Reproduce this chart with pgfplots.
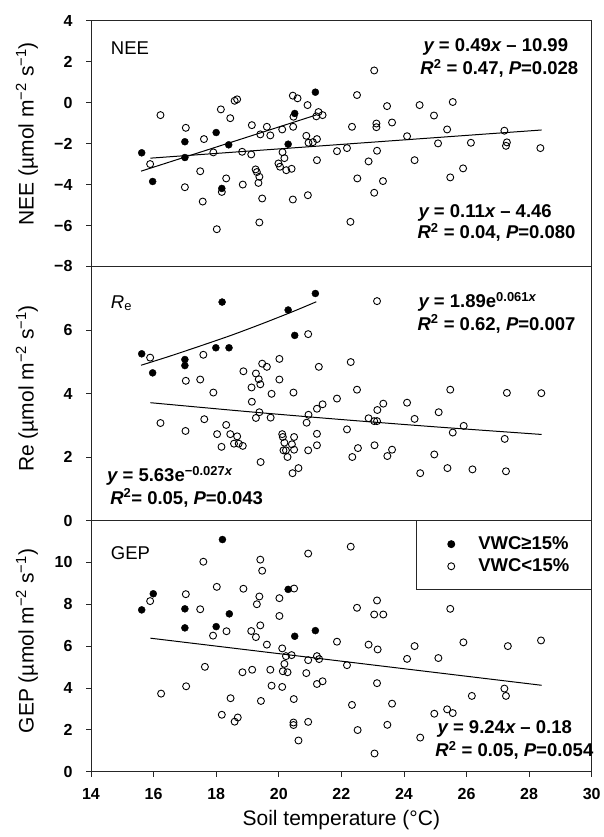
\documentclass[border=0pt]{standalone}
\usepackage{pgfplots}
\pgfplotsset{compat=1.18}
\usepackage{fontspec}
\setmainfont{Liberation Sans}

\newcommand{\ticksz}{\fontsize{16}{16}\selectfont\bfseries}
\newcommand{\eqsz}{\fontsize{18.5}{20}\selectfont\bfseries}
\newcommand{\labsz}{\fontsize{21}{21}\selectfont}
\newcommand{\panelsz}{\fontsize{18.5}{18.5}\selectfont}

\pgfplotsset{
  panel/.style={
    scale only axis, width=500.7pt,
    xmin=14, xmax=30,
    axis line style={black!85, line width=0.9pt},
    tick style={black!85, line width=0.8pt},
    tick align=outside, major tick length=5pt,
    xtick pos=bottom, ytick pos=left,
    yticklabel style={font=\ticksz, xshift=-10pt},
    xticklabel style={font=\ticksz},
    xticklabel shift=8pt,
    every axis y label/.style={at={(axis description cs:-0.128,0.52)}, rotate=90, anchor=center, font=\labsz},
    clip=false,
  },
  open/.style={only marks, mark=o, mark size=3.5pt, line width=0.9pt, black},
  wet/.style={only marks, mark=*, mark size=3.5pt, black},
  fitline/.style={no marks, black, line width=1pt},
  legmark/.style={legend image code/.code={\path[draw=none,fill=none] (-7pt,0pt) -- (33pt,0pt); \draw[##1] plot coordinates {(8pt,0pt)};}},
}
\tikzset{eq/.style={anchor=west, inner sep=0pt, font=\eqsz}}

\begin{document}
\begin{tikzpicture}
\path[use as bounding box] (0,0) rectangle (603pt,837pt);

% ---------------- NEE ----------------
\begin{axis}[panel, at={(91pt,570.5pt)}, anchor=south west, height=245.8pt,
  ymin=-8, ymax=4, ytick={-8,-6,...,4},
  yticklabels={−8,−6,−4,−2,0,2,4}, xtick=\empty,
  every axis y label/.append style={at={(axis description cs:-0.128,0.54)}},
  ylabel={NEE (µmol m\textsuperscript{−2} s\textsuperscript{−1})}]
\addplot[wet] coordinates {
(15.62,-2.45) (15.97,-3.85) (17.0,-1.91) (17.0,-2.68) (18.0,-1.46)
(18.40,-2.06) (18.18,-4.19) (20.30,-2.03) (20.51,-0.53) (21.17,0.51)};
\addplot[open] coordinates {
(16.22,-0.61) (15.89,-3.00) (17.03,-1.23) (17.61,-1.78) (17.49,-3.35)
(17.00,-4.13) (17.57,-4.83) (17.91,-2.43) (18.15,-0.33) (18.45,-0.76)
(18.59,0.09) (18.67,0.16) (18.32,-3.70) (18.18,-4.36) (18.02,-6.18)
(18.85,-4.00) (18.83,-2.40) (19.14,-1.10) (19.12,-2.53) (19.41,-1.55)
(19.62,-1.18) (19.73,-1.60) (19.26,-3.26) (19.30,-3.39) (19.38,-3.62)
(19.35,-3.92) (19.47,-4.68) (19.38,-5.85) (20.11,-1.31) (20.12,-2.42)
(20.18,-2.71) (19.99,-2.97) (20.04,-3.13) (20.24,-3.30) (20.41,-3.23)
(20.45,-4.73) (20.46,-1.18) (20.45,0.34) (20.60,0.21) (20.47,-0.69)
(20.92,-0.12) (20.88,-1.62) (20.95,-1.96) (21.09,-1.93) (21.22,-1.78)
(21.27,-0.46) (21.40,-0.61) (21.20,-0.67) (21.22,-2.81) (20.93,-4.52)
(21.86,-2.37) (22.18,-2.22) (22.34,-1.18) (22.50,0.37) (22.51,-3.70)
(22.29,-5.82) (22.87,-2.87) (23.05,-4.40) (23.14,-2.35) (23.12,-1.02)
(23.12,-1.20) (23.05,1.57) (23.33,-3.83) (23.46,-0.17) (23.62,-0.97)
(24.10,-1.64) (24.34,-2.81) (24.50,-0.12) (24.96,-0.63) (25.09,-1.99)
(25.38,-1.31) (25.48,-3.65) (25.56,0.03) (25.89,-3.21) (26.14,-1.96)
(27.21,-1.37) (27.29,-1.94) (27.26,-2.11) (28.36,-2.22)};
% linear fits
\addplot[fitline] coordinates {(15.6,-3.346) (21.2,-0.602)};
\addplot[fitline] coordinates {(15.9,-2.711) (28.4,-1.336)};
\node[anchor=west, inner sep=0pt, font=\panelsz] at (axis cs:14.63,2.68) {NEE};
\node[eq] at (axis cs:24.62,2.73) {\itshape y\upshape\ = 0.49\itshape x\upshape\ – 10.99};
\node[eq] at (axis cs:24.52,1.68) {\itshape R\upshape\textsuperscript{2} = 0.47, \itshape P\upshape=0.028};
\node[eq] at (axis cs:24.46,-5.39) {\itshape y\upshape\ = 0.11\itshape x\upshape\ – 4.46};
\node[eq] at (axis cs:24.43,-6.33) {\itshape R\upshape\textsuperscript{2} = 0.04, \itshape P\upshape=0.080};
\end{axis}

% ---------------- Re ----------------
\begin{axis}[panel, at={(91pt,316.5pt)}, anchor=south west, height=254pt,
  ymin=0, ymax=8, ytick={0,2,4,6},
  yticklabels={0,2,4,6}, xtick=\empty,
  ylabel={Re (µmol m\textsuperscript{−2} s\textsuperscript{−1})}]
\addplot[wet] coordinates {
(15.62,5.25) (15.97,4.65) (17.0,5.07) (17.0,4.88) (17.99,5.44)
(18.41,5.44) (18.19,6.88) (20.30,6.63) (20.51,5.83) (21.17,7.15)};
\addplot[open] coordinates {
(15.89,5.13) (16.22,3.07) (17.03,4.40) (17.02,2.82) (17.49,4.44)
(17.59,5.22) (17.62,3.19) (17.91,4.03) (18.03,2.72) (18.17,2.32)
(18.32,3.01) (18.45,2.72) (18.57,2.42) (18.67,2.65) (18.72,2.42)
(18.85,2.35) (18.87,4.70) (19.14,3.74) (19.13,4.19) (19.27,4.63)
(19.36,4.45) (19.41,4.29) (19.47,4.94) (19.62,4.84) (19.27,3.23)
(19.38,3.41) (19.74,3.24) (19.77,3.99) (20.02,5.09) (20.02,4.44)
(19.42,1.84) (20.11,2.72) (20.13,2.63) (20.18,2.45) (20.15,2.21)
(20.23,2.21) (20.28,2.00) (20.42,2.40) (20.49,2.63) (20.49,2.23)
(20.47,4.03) (20.44,1.49) (20.63,1.65) (20.94,5.87) (21.28,4.84)
(20.89,3.08) (20.95,3.33) (21.22,3.52) (21.40,3.66) (21.22,2.73)
(21.22,2.37) (20.94,2.21) (21.86,3.84) (22.18,2.87) (22.30,4.99)
(22.50,4.12) (22.35,2.00) (22.53,2.28) (22.87,3.22) (23.05,3.13)
(23.14,3.13) (23.15,3.48) (23.34,3.68) (23.06,2.37) (23.47,2.03)
(23.62,2.23) (23.14,6.91) (24.10,3.71) (24.34,3.20) (24.52,1.49)
(24.97,2.08) (25.11,3.41) (25.39,1.65) (25.48,4.12) (25.56,2.77)
(25.91,2.98) (26.19,1.61) (27.22,2.57) (27.29,4.02) (27.26,1.55)
(28.39,4.01)};
% exponential fits
\addplot[fitline, smooth] coordinates {(15.6,4.89) (16.5,5.17) (17.5,5.50) (18.5,5.84)
  (19.5,6.21) (20.5,6.60) (21.2,6.89)};
\addplot[fitline, smooth] coordinates {(15.9,3.71) (19,3.43) (22,3.18) (25,2.95) (28.4,2.71)};
\node[anchor=west, inner sep=0pt, font=\panelsz] at (axis cs:14.63,6.85) {\itshape R\upshape\textsubscript{e}};
\node[eq] at (axis cs:24.46,6.89) {\itshape y\upshape\ = 1.89e\textsuperscript{0.061\itshape x}};
\node[eq] at (axis cs:24.43,6.19) {\itshape R\upshape\textsuperscript{2} = 0.62, \itshape P\upshape=0.007};
\node[eq] at (axis cs:14.51,1.40) {\itshape y\upshape\ = 5.63e\textsuperscript{−0.027\itshape x}};
\node[eq] at (axis cs:14.61,0.71) {\itshape R\upshape\textsuperscript{2}= 0.05, \itshape P\upshape=0.043};
\end{axis}

% ---------------- GEP ----------------
\begin{axis}[panel, at={(91pt,65.3pt)}, anchor=south west, height=251.2pt,
  ymin=0, ymax=12, ytick={0,2,...,10},
  yticklabels={0,2,4,6,8,10},
  xtick={14,16,...,30},
  xticklabels={14,16,18,20,22,24,26,28,30},
  every axis x label/.style={at={(axis description cs:0.5,0)}, anchor=center, yshift=-48pt, font=\labsz},
  xlabel={Soil temperature (°C)},
  ylabel={GEP (µmol m\textsuperscript{−2} s\textsuperscript{−1})},
  legend style={at={(rel axis cs:1,1)}, anchor=north east,
    draw=black!85, line width=0.9pt, font=\eqsz,
    inner xsep=20pt, inner ysep=14pt, row sep=3.7pt,
    nodes={inner sep=2pt}},
  legend cell align=left]
\addplot[wet, legmark] coordinates {
(15.62,7.73) (15.99,8.50) (17.0,7.78) (17.0,6.87) (18.0,6.93)
(18.2,11.09) (18.42,7.54) (20.30,8.71) (20.51,6.47) (21.17,6.74)};
\addlegendentry{VWC≥15\%}
\addplot[open, legmark] coordinates {
(15.89,8.15) (16.24,3.73) (17.03,8.48) (17.04,4.08) (17.49,7.76)
(17.59,10.03) (17.64,5.01) (17.90,6.50) (18.02,8.83) (18.33,6.71)
(18.18,2.72) (18.46,3.51) (18.59,2.39) (18.69,2.59) (18.87,8.74)
(18.84,4.75) (19.15,4.87) (19.12,6.72) (19.27,6.43) (19.30,8.00)
(19.38,8.37) (19.41,6.99) (19.43,3.38) (19.41,10.13) (19.47,9.60)
(19.62,6.07) (19.73,4.87) (19.77,4.11) (20.02,8.29) (20.02,7.44)
(20.11,5.89) (20.13,4.80) (20.18,5.15) (20.23,5.52) (20.28,4.75)
(20.41,5.57) (20.11,4.05) (20.48,3.47) (20.49,8.75) (20.47,2.35)
(20.47,2.23) (20.63,1.49) (20.94,10.42) (20.88,4.71) (20.94,5.33)
(21.22,5.52) (21.29,5.38) (21.22,4.19) (21.40,4.32) (20.94,2.38)
(21.86,6.21) (22.18,5.09) (22.30,10.75) (22.50,7.83) (22.34,3.19)
(22.52,1.99) (22.87,6.07) (23.05,7.51) (23.14,8.18) (23.16,5.84)
(23.34,7.51) (23.14,4.23) (23.62,3.25) (23.47,2.24) (23.06,0.87)
(24.10,5.39) (24.34,6.00) (24.52,1.63) (24.97,2.77) (25.10,5.43)
(25.38,2.98) (25.48,7.78) (25.56,2.80) (25.90,6.18) (26.17,3.62)
(27.21,3.97) (27.26,3.62) (27.32,6.00) (28.38,6.27)};
\addlegendentry{VWC<15\%}
% linear fit
\addplot[fitline, forget plot] coordinates {(15.9,6.378) (28.4,4.128)};
\node[anchor=west, inner sep=0pt, font=\panelsz] at (axis cs:14.63,10.45) {GEP};
\node[eq] at (axis cs:25.07,2.04) {\itshape y\upshape\ = 9.24\itshape x\upshape\ – 0.18};
\node[eq] at (axis cs:25.0,1.00) {\itshape R\upshape\textsuperscript{2} = 0.05, \itshape P\upshape=0.054};
\end{axis}
\end{tikzpicture}
\end{document}
